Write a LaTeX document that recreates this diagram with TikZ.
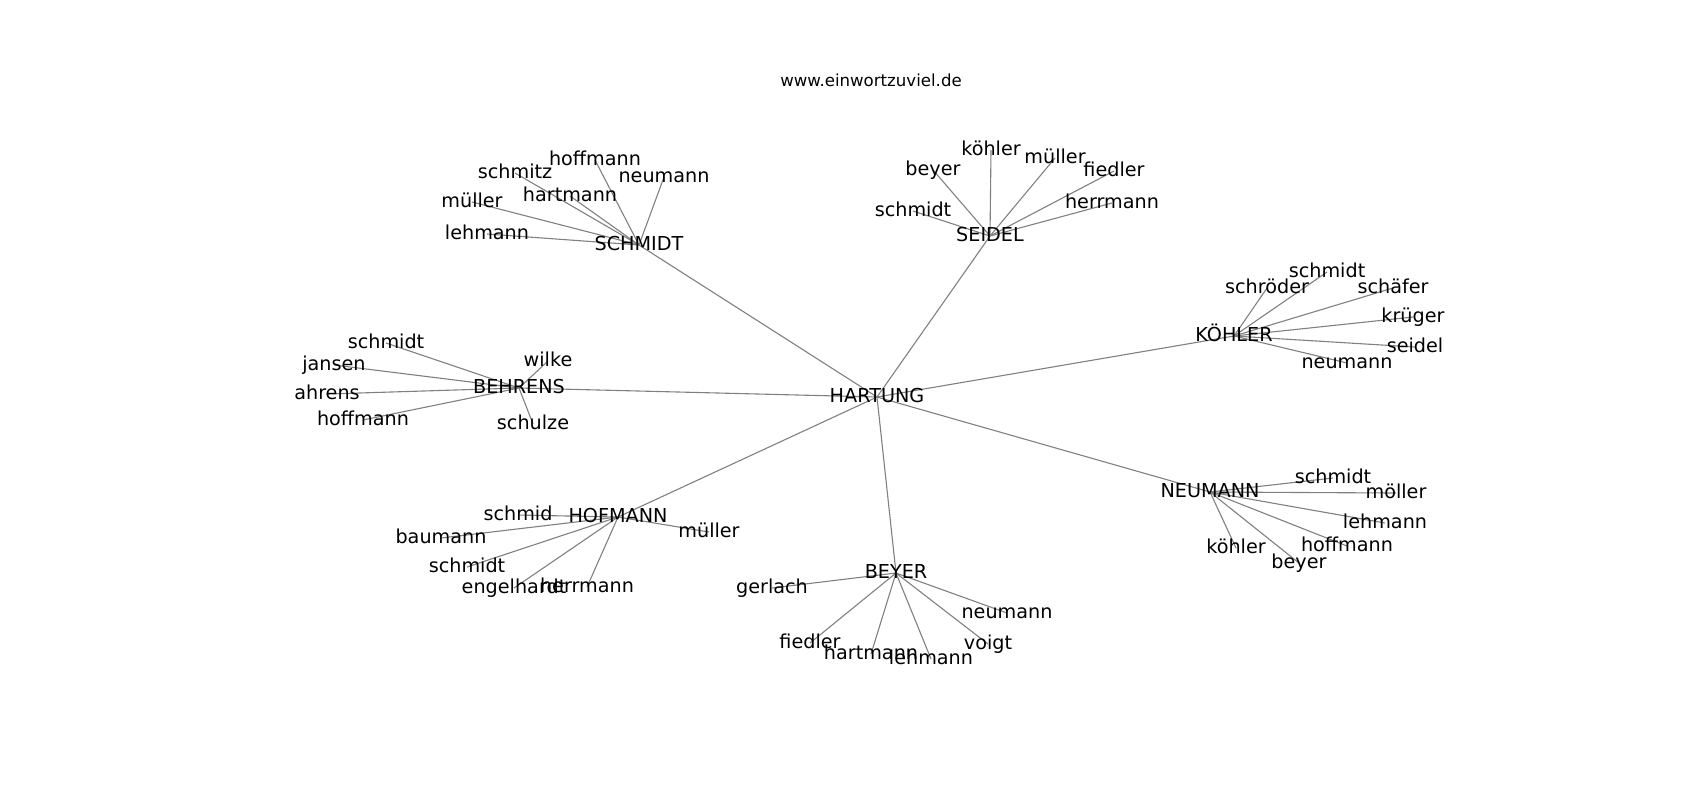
\documentclass[tikz,border=0pt]{standalone}
\usepackage{fontspec}
\setmainfont{DejaVu Sans}
\usetikzlibrary{backgrounds}
\begin{document}
\begin{tikzpicture}[x=0.5pt,y=-0.5pt,
  lab/.style={font=\fontsize{9.6}{11}\selectfont, text height=7.3pt, text depth=2.3pt, inner sep=0pt, text=black},
  edge/.style={draw=gray, line width=0.55pt}]
\useasboundingbox (0,0) rectangle (1700,800);
\node[font=\fontsize{8.3}{10}\selectfont, inner sep=0pt, text height=6.3pt, text depth=2pt] (title) at (871,82) {www.einwortzuviel.de};
% hubs
\node[lab] (hart) at (877,397) {HARTUNG};
\node[lab] (schm) at (639,245) {SCHMIDT};
\node[lab] (seid) at (990,236) {SEIDEL};
\node[lab] (koeh) at (1234,336) {KÖHLER};
\node[lab] (behr) at (519,388) {BEHRENS};
\node[lab] (hofm) at (618,517) {HOFMANN};
\node[lab] (beye) at (896,573) {BEYER};
\node[lab] (neum) at (1210,492) {NEUMANN};
% SCHMIDT leaves
\node[lab] (sa) at (595,160) {hoffmann};
\node[lab] (sb) at (515,173) {schmitz};
\node[lab] (sc) at (664,177) {neumann};
\node[lab] (sd) at (570,196) {hartmann};
\node[lab] (se) at (472,202) {müller};
\node[lab] (sf) at (487,234) {lehmann};
% SEIDEL leaves
\node[lab] (ea) at (991,150) {köhler};
\node[lab] (eb) at (933,170) {beyer};
\node[lab] (ec) at (1055,158) {müller};
\node[lab] (ed) at (1114,171) {fiedler};
\node[lab] (ee) at (1112,203) {herrmann};
\node[lab] (ef) at (913,211) {schmidt};
% KOEHLER leaves
\node[lab] (ka) at (1327,272) {schmidt};
\node[lab] (kb) at (1267,288) {schröder};
\node[lab] (kc) at (1393,288) {schäfer};
\node[lab] (kd) at (1413,317) {krüger};
\node[lab] (ke) at (1415,347) {seidel};
\node[lab] (kf) at (1347,363) {neumann};
% BEHRENS leaves
\node[lab] (ba) at (386,343) {schmidt};
\node[lab] (bb) at (334,365) {jansen};
\node[lab] (bc) at (327,394) {ahrens};
\node[lab] (bd) at (363,420) {hoffmann};
\node[lab] (be) at (548,361) {wilke};
\node[lab] (bf) at (533,424) {schulze};
% HOFMANN leaves
\node[lab] (ha) at (518,515) {schmid};
\node[lab] (hb) at (441,538) {baumann};
\node[lab] (hc) at (709,532) {müller};
\node[lab] (hd) at (467,567) {schmidt};
\node[lab] (he) at (514,588) {engelhardt};
\node[lab] (hf) at (587,587) {herrmann};
% BEYER leaves
\node[lab] (ya) at (772,588) {gerlach};
\node[lab] (yb) at (810,643) {fiedler};
\node[lab] (yc) at (871,654) {hartmann};
\node[lab] (yd) at (931,659) {lehmann};
\node[lab] (ye) at (1007,613) {neumann};
\node[lab] (yf) at (988,644) {voigt};
% NEUMANN leaves
\node[lab] (na) at (1333,478) {schmidt};
\node[lab] (nb) at (1396,493) {möller};
\node[lab] (nc) at (1385,523) {lehmann};
\node[lab] (nd) at (1347,546) {hoffmann};
\node[lab] (ne) at (1236,548) {köhler};
\node[lab] (nf) at (1299,563) {beyer};
\begin{scope}[on background layer]
\foreach \h in {schm,seid,koeh,behr,hofm,beye,neum}
  \draw[edge] (hart.center) -- (\h.center);
\foreach \l in {sa,sb,sc,sd,se,sf} \draw[edge] (schm.center) -- (\l.center);
\foreach \l in {ea,eb,ec,ed,ee,ef} \draw[edge] (seid.center) -- (\l.center);
\foreach \l in {ka,kb,kc,kd,ke,kf} \draw[edge] (koeh.center) -- (\l.center);
\foreach \l in {ba,bb,bc,bd,be,bf} \draw[edge] (behr.center) -- (\l.center);
\foreach \l in {ha,hb,hc,hd,he,hf} \draw[edge] (hofm.center) -- (\l.center);
\foreach \l in {ya,yb,yc,yd,ye,yf} \draw[edge] (beye.center) -- (\l.center);
\foreach \l in {na,nb,nc,nd,ne,nf} \draw[edge] (neum.center) -- (\l.center);
\end{scope}
\end{tikzpicture}
\end{document}
